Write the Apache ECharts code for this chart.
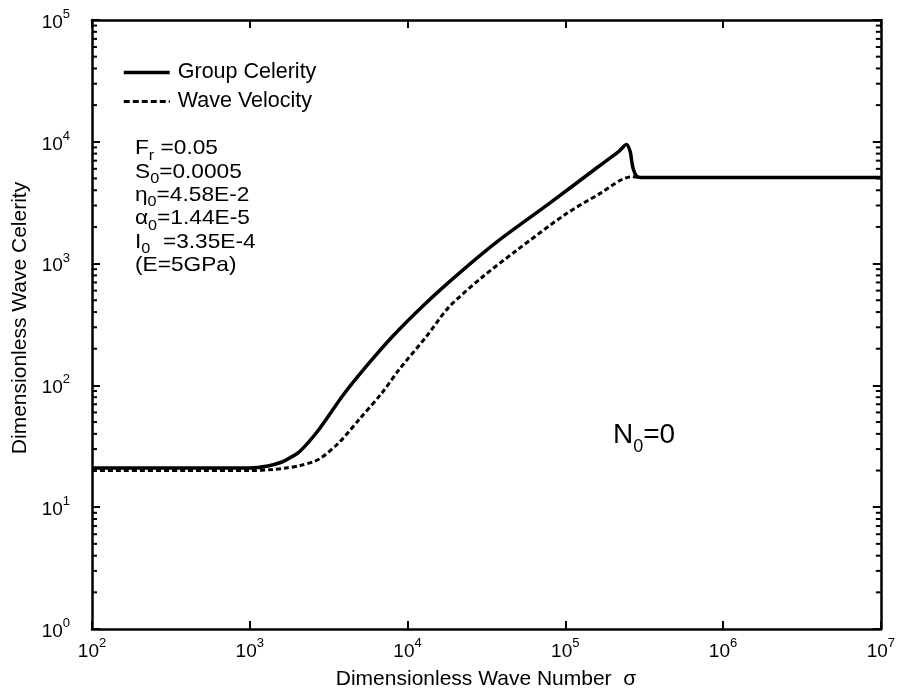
<!DOCTYPE html>
<html>
<head>
<meta charset="utf-8">
<script src="https://cdn.jsdelivr.net/npm/echarts@6/dist/echarts.min.js"></script>
<style>
  html, body { margin: 0; padding: 0; background: #fff; }
  #chart { width: 898px; height: 694px; }
</style>
</head>
<body>
<div id="chart"></div>
<script>
const FONT = "'Liberation Sans', Arial, Helvetica, sans-serif";

// Group celerity versus dimensionless wave number sigma
const groupSigma = [100, 500, 1000, 1300, 1600, 1800, 2065, 2760, 3860, 5470, 8000, 13100, 21200, 37900,
  78500, 162500, 217600, 244500, 258000, 264000, 270500, 282500, 300000, 1000000, 10000000];
const groupCelerity = [21, 21, 21, 21.8, 23.5, 25.5, 28.5, 43.9, 81.5, 143, 251, 475, 832, 1550,
  3090, 6270, 8300, 9500, 8280, 6850, 5900, 5250, 5100, 5100, 5100];

// Wave (phase) velocity versus dimensionless wave number sigma
const waveSigma = [100, 500, 1000, 1400, 1700, 2065, 2760, 3700, 4940, 6910, 8850, 13100, 18300, 29600,
  48600, 100700, 162500, 263000, 300000, 1000000, 10000000];
const waveVelocity = [20, 20, 20, 20.4, 21, 21.9, 24.9, 34.2, 52.6, 87.3, 135, 250, 439, 769,
  1270, 2550, 3700, 5160, 5100, 5100, 5100];

// Decade exponents used for the tick labels
const xExponents = ['2', '3', '4', '5', '6', '7'];
const yExponents = ['0', '1', '2', '3', '4', '5'];
// Minor tick mantissas inside each decade of the celerity axis
const minorMantissas = [2, 3, 4, 5, 6, 7, 8, 9];

// Run parameters printed in the upper left
const paramLines = [
  [['m', 'F'], ['s', 'r'], ['m', ' =0.05']],
  [['m', 'S'], ['s', '0'], ['m', '=0.0005']],
  [['m', 'η'], ['s', '0'], ['m', '=4.58E-2']],
  [['m', 'α'], ['s', '0'], ['m', '=1.44E-5']],
  [['m', 'I'], ['s', '0'], ['m', '  =3.35E-4']],
  [['m', '(E=5GPa)']]
];
const caseLabel = [['m', 'N'], ['s', '0'], ['m', '=0']];

const toRich = parts => parts.map(p => '{' + p[0] + '|' + p[1] + '}').join('');

const minorTicks = [];
for (let k = 0; k < 5; k++) {
  minorMantissas.forEach(m => minorTicks.push([100, m * Math.pow(10, k)]));
}

const supRich = {
  m: { fontSize: 19, fontFamily: FONT, color: '#000', lineHeight: 24, verticalAlign: 'bottom' },
  s: { fontSize: 13, fontFamily: FONT, color: '#000', verticalAlign: 'top' }
};
const expOf = v => Math.round(Math.log10(v));

const axisLineStyle = { show: true, lineStyle: { color: '#000', width: 2.5 } };
const majorTick = { show: true, inside: true, length: 8, lineStyle: { color: '#000', width: 2 } };

const chart = echarts.init(document.getElementById('chart'), null, { renderer: 'canvas' });

const paramGraphics = paramLines.map((line, i) => ({
  type: 'text',
  x: 135,
  y: 138 + i * 23.4,
  scaleX: 1.08,
  style: {
    text: toRich(line),
    rich: {
      m: { fontSize: 21, fontFamily: FONT, fill: '#000', lineHeight: 25, verticalAlign: 'top' },
      s: { fontSize: 15, fontFamily: FONT, fill: '#000', verticalAlign: 'bottom' }
    }
  }
}));

chart.setOption({
  animation: false,
  backgroundColor: '#fff',
  grid: { left: 92, right: 15, top: 20, bottom: 65, show: false },
  legend: {
    data: [
      { name: 'Group Celerity', itemStyle: { opacity: 0 }, lineStyle: { width: 3.5, color: '#000' } },
      { name: 'Wave Velocity', itemStyle: { opacity: 0 }, lineStyle: { width: 3, color: '#000', type: [6, 3] } }
    ],
    orient: 'vertical',
    left: 117,
    top: 56,
    itemWidth: 46,
    itemHeight: 14,
    itemGap: 6,
    itemStyle: { opacity: 0 },
    textStyle: { fontSize: 21.5, fontFamily: FONT, color: '#000', lineHeight: 23, padding: [0, 0, 0, 3] }
  },
  xAxis: [
    {
      type: 'log', logBase: 10, min: 100, max: 10000000, position: 'bottom',
      axisLine: axisLineStyle, axisTick: majorTick, splitLine: { show: false },
      axisLabel: {
        margin: 8, showMinLabel: true, showMaxLabel: true,
        formatter: v => '{m|10}{s|' + xExponents[expOf(v) - 2] + '}',
        rich: supRich
      }
    },
    {
      type: 'log', logBase: 10, min: 100, max: 10000000, position: 'top',
      axisLine: axisLineStyle, axisTick: majorTick, axisLabel: { show: false }, splitLine: { show: false }
    }
  ],
  yAxis: [
    {
      type: 'log', logBase: 10, min: 1, max: 100000, position: 'left',
      axisLine: axisLineStyle, axisTick: majorTick, splitLine: { show: false },
      axisLabel: {
        margin: 22, showMinLabel: true, showMaxLabel: true,
        formatter: v => '{m|10}{s|' + yExponents[expOf(v)] + '}',
        rich: supRich
      }
    },
    {
      type: 'log', logBase: 10, min: 1, max: 100000, position: 'right',
      axisLine: axisLineStyle, axisTick: majorTick, axisLabel: { show: false }, splitLine: { show: false }
    }
  ],
  graphic: [
    {
      type: 'text', x: 486, y: 679,
      style: { text: 'Dimensionless Wave Number  σ', fontSize: 21, fontFamily: FONT, fill: '#000',
        align: 'center', verticalAlign: 'middle' }
    },
    {
      type: 'text', x: 20, y: 318, rotation: Math.PI / 2,
      style: { text: 'Dimensionless Wave Celerity', fontSize: 21, fontFamily: FONT, fill: '#000',
        align: 'center', verticalAlign: 'middle' }
    },
    {
      type: 'text', x: 613, y: 421,
      style: {
        text: toRich(caseLabel),
        rich: {
          m: { fontSize: 28, fontFamily: FONT, fill: '#000', lineHeight: 35, verticalAlign: 'top' },
          s: { fontSize: 18, fontFamily: FONT, fill: '#000', verticalAlign: 'bottom' }
        }
      }
    }
  ].concat(paramGraphics),
  series: [
    {
      name: 'Group Celerity', type: 'line',
      data: groupSigma.map((x, i) => [x, groupCelerity[i]]),
      symbol: 'none', showSymbol: false, smooth: 0.3,
      lineStyle: { color: '#000', width: 3.5 }, itemStyle: { color: '#000' }, z: 3
    },
    {
      name: 'Wave Velocity', type: 'line',
      data: waveSigma.map((x, i) => [x, waveVelocity[i]]),
      symbol: 'none', showSymbol: false, smooth: 0.3,
      lineStyle: { color: '#000', width: 3, type: [5, 3] }, itemStyle: { color: '#000' }, z: 4
    },
    {
      type: 'custom', silent: true, clip: false,
      data: minorTicks,
      encode: { x: 0, y: 1 },
      renderItem: (params, api) => {
        const v = api.value(1);
        const l = api.coord([100, v]);
        const r = api.coord([10000000, v]);
        return {
          type: 'group',
          children: [
            { type: 'line', shape: { x1: l[0], y1: l[1], x2: l[0] + 5, y2: l[1] }, style: { stroke: '#000', lineWidth: 2 } },
            { type: 'line', shape: { x1: r[0], y1: r[1], x2: r[0] - 5, y2: r[1] }, style: { stroke: '#000', lineWidth: 2 } }
          ]
        };
      },
      z: 5
    }
  ]
});
</script>
</body>
</html>
